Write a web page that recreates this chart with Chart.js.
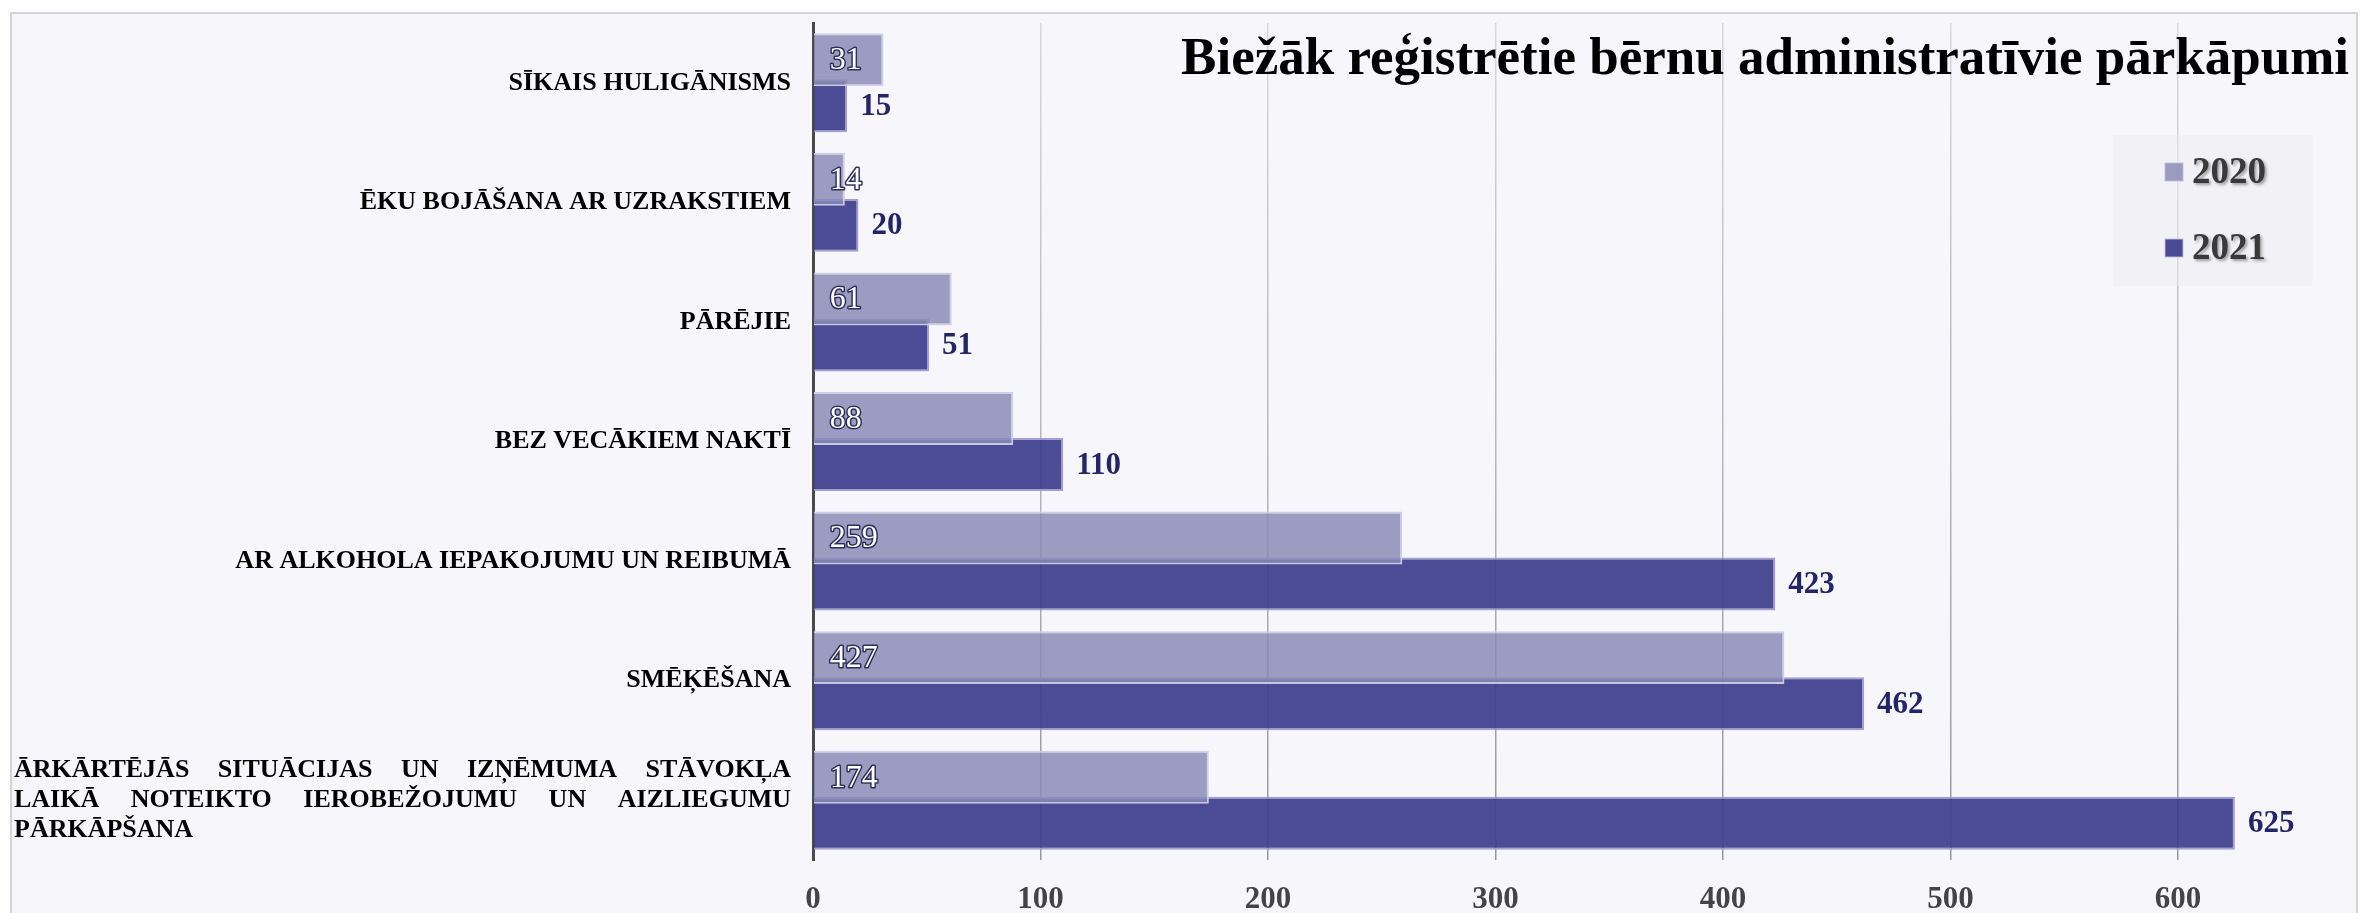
<!DOCTYPE html>
<html>
<head>
<meta charset="utf-8">
<script src="https://cdn.jsdelivr.net/npm/chart.js@4.4.1/dist/chart.umd.min.js"></script>
<style>
  html, body { margin: 0; padding: 0; background: #fff; overflow: hidden; }
  #frame {
    position: absolute; left: 10px; top: 12px; width: 2348px; height: 960px;
    box-sizing: border-box; border: 2px solid #d2d2d8; background: #f7f7fb;
  }
  #wrap { position: absolute; left: 0; top: 0; width: 2361px; height: 913px; }
</style>
</head>
<body>
<div id="frame"></div>
<div id="wrap"><canvas id="chart"></canvas></div>
<script>
const chartTitle = "Biežāk reģistrētie bērnu administratīvie pārkāpumi";
const categories = [
  "SĪKAIS HULIGĀNISMS",
  "ĒKU BOJĀŠANA AR UZRAKSTIEM",
  "PĀRĒJIE",
  "BEZ VECĀKIEM NAKTĪ",
  "AR ALKOHOLA IEPAKOJUMU UN REIBUMĀ",
  "SMĒĶĒŠANA",
  ["ĀRKĀRTĒJĀS SITUĀCIJAS UN IZŅĒMUMA STĀVOKĻA", "LAIKĀ NOTEIKTO IEROBEŽOJUMU UN AIZLIEGUMU", "PĀRKĀPŠANA"]
];
const seriesLabels = ["2020", "2021"];
const values2020 = [31, 14, 61, 88, 259, 427, 174];
const values2021 = [15, 20, 51, 110, 423, 462, 625];
const xMax = 640;
const xStep = 100;

const serif = '"Liberation Serif", "DejaVu Serif", serif';
const color2020 = "rgba(138, 138, 182, 0.84)";
const color2021 = "rgba(62, 61, 142, 0.93)";

function justifyLine(ctx, text, left, right, y) {
  const words = text.split(" ");
  const widths = words.map((w) => ctx.measureText(w).width);
  const total = widths.reduce((a, b) => a + b, 0);
  const gap = (right - left - total) / (words.length - 1);
  let x = left;
  ctx.textAlign = "left";
  words.forEach((w, i) => {
    ctx.fillText(w, x, y);
    x += widths[i] + gap;
  });
}

const categoryLabels = {
  id: "categoryLabels",
  afterDraw(chart) {
    const { ctx } = chart;
    const yScale = chart.scales.y;
    const left = 14, right = yScale.left - 9;
    ctx.save();
    ctx.font = `bold 26px ${serif}`;
    ctx.fillStyle = "#000";
    ctx.textBaseline = "middle";
    categories.forEach((label, i) => {
      const y = yScale.getPixelForTick(i);
      const lines = Array.isArray(label) ? label : [label];
      const lh = 30;
      const y0 = y - (lines.length - 1) * lh / 2;
      lines.forEach((line, j) => {
        const ly = y0 + j * lh;
        if (lines.length > 1 && j < lines.length - 1) {
          justifyLine(ctx, line, left, right, ly);
        } else if (lines.length > 1) {
          ctx.textAlign = "left";
          ctx.fillText(line, left, ly);
        } else {
          ctx.textAlign = "right";
          ctx.fillText(line, right, ly);
        }
      });
    });
    ctx.restore();
  }
};

const valueLabels = {
  id: "valueLabels",
  afterDatasetsDraw(chart) {
    const { ctx } = chart;
    ctx.save();
    ctx.textBaseline = "middle";
    ctx.textAlign = "left";
    // 2020: white outlined numbers inside the bar
    ctx.font = `32px ${serif}`;
    ctx.lineJoin = "round";
    chart.getDatasetMeta(0).data.forEach((bar, i) => {
      const x = bar.base + 16;
      ctx.lineWidth = 3;
      ctx.strokeStyle = "#2e2e5e";
      ctx.strokeText(values2020[i], x, bar.y + 1);
      ctx.fillStyle = "#fff";
      ctx.fillText(values2020[i], x, bar.y + 1);
    });
    // 2021: navy numbers after the bar end
    ctx.font = `bold 31px ${serif}`;
    ctx.fillStyle = "#24246e";
    chart.getDatasetMeta(1).data.forEach((bar, i) => {
      ctx.fillText(values2021[i], bar.x + 13, bar.y + 1);
    });
    ctx.restore();
  }
};

const titleAndLegend = {
  id: "titleAndLegend",
  afterDraw(chart) {
    const { ctx } = chart;
    ctx.save();
    ctx.font = `bold 53px ${serif}`;
    ctx.fillStyle = "#000";
    ctx.textAlign = "right";
    ctx.textBaseline = "alphabetic";
    ctx.fillText(chartTitle, 2349, 74);

    // legend box
    ctx.fillStyle = "rgba(238, 238, 242, 0.5)";
    ctx.fillRect(2113, 135, 200, 151);
    const items = [
      { text: seriesLabels[0], color: color2020, y: 172 },
      { text: seriesLabels[1], color: color2021, y: 248 }
    ];
    ctx.font = `bold 37px ${serif}`;
    ctx.textAlign = "left";
    ctx.textBaseline = "middle";
    items.forEach((item) => {
      ctx.fillStyle = item.color;
      ctx.fillRect(2165, item.y - 9, 18, 18);
      ctx.strokeStyle = "rgba(190, 190, 225, 0.9)";
      ctx.lineWidth = 1;
      ctx.strokeRect(2165, item.y - 9, 18, 18);
      ctx.save();
      ctx.shadowColor = "rgba(0, 0, 0, 0.35)";
      ctx.shadowBlur = 3;
      ctx.shadowOffsetX = 2;
      ctx.shadowOffsetY = 2;
      ctx.fillStyle = "#3a3a3a";
      ctx.fillText(item.text, 2192, item.y + 1);
      ctx.restore();
    });
    ctx.restore();
  }
};

function gridColor(context) {
  const chart = context.chart;
  const area = chart.chartArea;
  if (!area) return "#c8c8ce";
  const g = chart.ctx.createLinearGradient(0, area.top, 0, area.bottom);
  g.addColorStop(0, "rgba(215, 215, 222, 1)");
  g.addColorStop(1, "rgba(150, 150, 158, 1)");
  return g;
}

new Chart(document.getElementById("chart"), {
  type: "bar",
  data: {
    labels: categories,
    datasets: [
      {
        label: seriesLabels[0],
        data: values2020,
        backgroundColor: color2020,
        borderColor: "rgba(205, 205, 228, 0.95)",
        borderWidth: 2,
        categoryPercentage: 0.77,
        barPercentage: 1.15
      },
      {
        label: seriesLabels[1],
        data: values2021,
        backgroundColor: color2021,
        borderColor: "rgba(150, 150, 210, 0.9)",
        borderWidth: 2,
        categoryPercentage: 0.77,
        barPercentage: 1.15
      }
    ]
  },
  options: {
    indexAxis: "y",
    responsive: true,
    maintainAspectRatio: false,
    animation: false,
    layout: { padding: { left: 800, top: 23, right: 92, bottom: 0 } },
    plugins: {
      legend: { display: false },
      title: { display: false },
      tooltip: { enabled: false }
    },
    scales: {
      x: {
        min: 0,
        max: xMax,
        grid: { color: gridColor, lineWidth: 1.5, drawTicks: false },
        border: { display: false },
        ticks: {
          stepSize: xStep,
          includeBounds: false,
          padding: 21,
          color: "#444",
          font: { family: serif, size: 31, weight: "bold" }
        },
        afterFit(scale) { scale.height = 53; }
      },
      y: {
        grid: { display: false },
        border: { display: true, color: "#4a4a4a", width: 3 },
        ticks: { display: false },
        afterFit(scale) { scale.width = 13; }
      }
    }
  },
  plugins: [categoryLabels, valueLabels, titleAndLegend]
});
</script>
</body>
</html>
